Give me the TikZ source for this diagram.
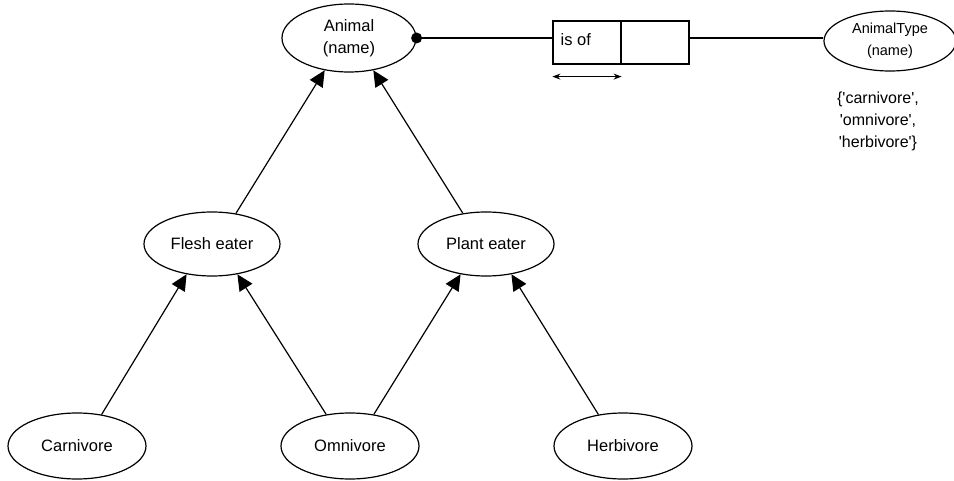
\documentclass[tikz,border=0pt]{standalone}
\usepackage{fontspec}
\setmainfont{Liberation Sans}
\newfontfamily\setfnt{Liberation Sans}[Ligatures=TeXOff]
\usetikzlibrary{shapes.geometric,arrows.meta}
\begin{document}
\begin{tikzpicture}[x=1pt,y=-1pt,
  ell/.style={ellipse,draw,line width=1.2pt,inner sep=0pt,align=center,font=\fontsize{16.5}{22}\selectfont},
  big/.style={ell,minimum width=136pt,minimum height=64pt},
  low/.style={ell,minimum width=138pt,minimum height=66pt},
  isa/.style={line width=1.2pt,-{Triangle[length=16pt,width=15pt]}},
  cell/.style={draw,line width=1.2pt,minimum width=68pt,minimum height=43pt,inner sep=0pt}
]
\useasboundingbox (0,0) rectangle (954,481);
\node[ell,minimum width=134pt,minimum height=68pt] (animal) at (349,38) {Animal\\(name)};
\node[ell,minimum width=132pt,minimum height=60pt,font=\fontsize{14.5}{22}\selectfont] (atype) at (890,41) {AnimalType\\(name)};
\node[cell] (isof) at (587,42.5) {};
\node[cell] (isof2) at (655,42.5) {};
\node[anchor=west,inner sep=0pt,font=\fontsize{16.5}{20}\selectfont] (isoftxt) at ([xshift=8pt,yshift=3pt]isof.west) {is of};
\node[align=center,font=\setfnt\fontsize{16}{22}\selectfont] (vals) at (878,121) {\{'carnivore',\\'omnivore',\\'herbivore'\}};

\node[big] (flesh) at (212,244) {Flesh eater};
\node[big] (plant) at (486,244) {Plant eater};
\node[low] (carn) at (77,446) {Carnivore};
\node[low] (omni) at (350,446) {Omnivore};
\node[low] (herb) at (623,446) {Herbivore};

\fill (animal.east) circle (5.5pt);
\draw[line width=1.2pt] (animal.east) -- (animal.east -| isof.west);
\draw[line width=1.2pt] (isof2.east |- animal.east) -- (atype.west |- animal.east);
\draw[line width=1.2pt,{Stealth[length=8pt,width=6pt]}-{Stealth[length=8pt,width=6pt]}] ([yshift=-12pt]isof.south west) -- ([yshift=-12pt]isof.south east);

\draw[isa] (flesh.52) -- (animal.233);
\draw[isa] (plant.127) -- (animal.307);
\draw[isa] (carn.52) -- (flesh.230);
\draw[isa] (omni.127) -- (flesh.310);
\draw[isa] (omni.53) -- (plant.230);
\draw[isa] (herb.128) -- (plant.310);
\end{tikzpicture}
\end{document}
